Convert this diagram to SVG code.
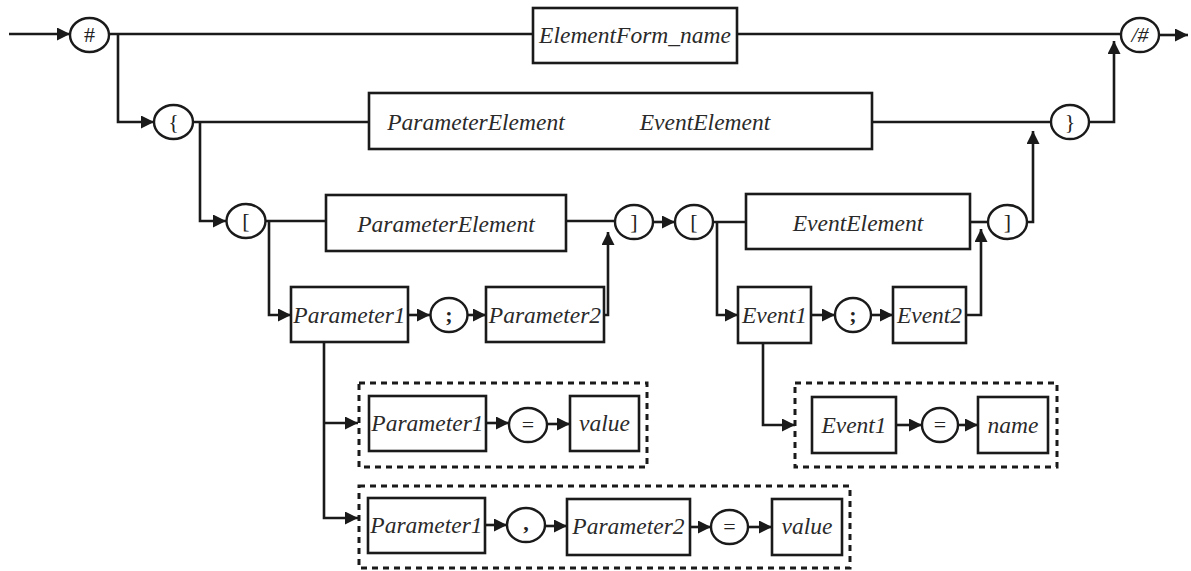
<svg xmlns="http://www.w3.org/2000/svg" width="1191" height="571" viewBox="0 0 1191 571">
<style>
.box{fill:#fff;stroke:#1a1a1a;stroke-width:2.6}
.dash{fill:none;stroke:#1a1a1a;stroke-width:3;stroke-dasharray:6 5}
.cir{fill:#fff;stroke:#1a1a1a;stroke-width:2.4}
.t{font-family:"Liberation Serif","Times New Roman",serif;font-style:italic;font-size:23.5px;fill:#2a2a2a;text-anchor:middle}
.s{font-family:"Liberation Serif","Times New Roman",serif;font-size:22px;fill:#222;text-anchor:middle}
.c{fill:none;stroke:#1a1a1a;stroke-width:2.6}
.a{marker-end:url(#ah)}
</style>
<defs>
<marker id="ah" viewBox="0 0 10 10" refX="10" refY="5" markerWidth="17" markerHeight="13" markerUnits="userSpaceOnUse" orient="auto"><path d="M0,0 L10,5 L0,10 z" fill="#1a1a1a"/></marker>
</defs>
<rect width="1191" height="571" fill="#fff"/>
<g id="connectors">
<path class="c a" d="M9,34 H70"/>
<path class="c" d="M109,34 H533"/>
<path class="c" d="M737,34 H1121"/>
<path class="c a" d="M1159,35 H1188"/>
<path class="c a" d="M118,34 V122 H154"/>
<path class="c" d="M193,122 H369"/>
<path class="c" d="M872,122 H1051"/>
<path class="c a" d="M1089,122 H1114 V41"/>
<path class="c a" d="M200,122 V221 H226"/>
<path class="c" d="M265,221 H326"/>
<path class="c" d="M566,221 H615"/>
<path class="c a" d="M269,221 V315 H291"/>
<path class="c a" d="M408,315 H430"/>
<path class="c a" d="M468,315 H486"/>
<path class="c a" d="M604,315 H608 V232"/>
<path class="c a" d="M653,222 H675"/>
<path class="c" d="M713,222 H746"/>
<path class="c" d="M970,222 H988"/>
<path class="c a" d="M717,222 V315 H738"/>
<path class="c a" d="M811,315 H835"/>
<path class="c a" d="M871,315 H893"/>
<path class="c a" d="M966,315 H981 V229"/>
<path class="c a" d="M1027,222 H1033 V131"/>
<path class="c a" d="M324,342 V518 H358"/>
<path class="c a" d="M324,423 H358"/>
<path class="c a" d="M486,423 H509"/>
<path class="c a" d="M547,424 H570"/>
<path class="c a" d="M485,525 H507"/>
<path class="c a" d="M545,526 H567"/>
<path class="c a" d="M690,527 H711"/>
<path class="c a" d="M748,527 H772"/>
<path class="c a" d="M763,343 V425 H795"/>
<path class="c a" d="M896,425 H922"/>
<path class="c a" d="M958,425 H978"/>
</g>
<g id="n-hash"><ellipse class="cir" cx="89.5" cy="35" rx="19.5" ry="17"/><text class="s" x="89.5" y="42">#</text></g>
<g id="n-elementform"><rect class="box" x="533" y="8" width="204" height="55"/><text class="t" x="635" y="43">ElementForm_name</text></g>
<g id="n-endhash"><ellipse class="cir" cx="1140" cy="35" rx="19" ry="17"/><text class="s" x="1140" y="42" font-style="italic">/#</text></g>
<g id="n-lbrace"><ellipse class="cir" cx="173.5" cy="122" rx="19.5" ry="17"/><text class="s" x="173.5" y="129">{</text></g>
<g id="n-bigbox"><rect class="box" x="369" y="93" width="503" height="56"/><text class="t" x="476" y="130">ParameterElement</text><text class="t" x="705" y="130">EventElement</text></g>
<g id="n-rbrace"><ellipse class="cir" cx="1070" cy="122" rx="19" ry="17"/><text class="s" x="1070" y="129">}</text></g>
<g id="n-lbr1"><ellipse class="cir" cx="246" cy="221" rx="19.5" ry="17"/><text class="s" x="246" y="228">[</text></g>
<g id="n-paramelem"><rect class="box" x="326" y="195" width="240" height="56"/><text class="t" x="446" y="232">ParameterElement</text></g>
<g id="n-rbr1"><ellipse class="cir" cx="634" cy="222" rx="19" ry="17"/><text class="s" x="634" y="229">]</text></g>
<g id="n-lbr2"><ellipse class="cir" cx="694" cy="222" rx="19" ry="17"/><text class="s" x="694" y="229">[</text></g>
<g id="n-eventelem"><rect class="box" x="746" y="194" width="224" height="55"/><text class="t" x="858" y="231">EventElement</text></g>
<g id="n-rbr2"><ellipse class="cir" cx="1007.5" cy="222" rx="19.5" ry="17"/><text class="s" x="1007.5" y="229">]</text></g>
<g id="n-param1"><rect class="box" x="291" y="287" width="117" height="55"/><text class="t" x="349.5" y="323">Parameter1</text></g>
<g id="n-semi1"><ellipse class="cir" cx="449" cy="315" rx="18.5" ry="17"/><text class="s" x="449" y="322" font-weight="bold">;</text></g>
<g id="n-param2"><rect class="box" x="486" y="287" width="118" height="55"/><text class="t" x="545" y="323">Parameter2</text></g>
<g id="n-event1"><rect class="box" x="738" y="287" width="73" height="56"/><text class="t" x="774.5" y="323">Event1</text></g>
<g id="n-semi2"><ellipse class="cir" cx="853" cy="315" rx="18" ry="17"/><text class="s" x="853" y="322" font-weight="bold">;</text></g>
<g id="n-event2"><rect class="box" x="893" y="287" width="73" height="56"/><text class="t" x="929.5" y="323">Event2</text></g>
<g id="n-group1">
<rect class="dash" x="359" y="383" width="288" height="84"/>
<rect class="box" x="369" y="396" width="117" height="55"/><text class="t" x="427.5" y="431">Parameter1</text>
<ellipse class="cir" cx="528" cy="425" rx="19" ry="17"/><text class="s" x="528" y="432">=</text>
<rect class="box" x="570" y="396" width="69" height="55"/><text class="t" x="604.5" y="431">value</text>
</g>
<g id="n-group2">
<rect class="dash" x="359" y="486" width="491" height="82"/>
<rect class="box" x="368" y="498" width="117" height="55"/><text class="t" x="426.5" y="533">Parameter1</text>
<ellipse class="cir" cx="526" cy="525" rx="19" ry="17"/><text class="s" x="526" y="530" font-weight="bold">,</text>
<rect class="box" x="567" y="499" width="123" height="56"/><text class="t" x="628.5" y="534">Parameter2</text>
<ellipse class="cir" cx="729.5" cy="527" rx="18.5" ry="17"/><text class="s" x="729.5" y="534">=</text>
<rect class="box" x="772" y="499" width="70" height="56"/><text class="t" x="807" y="534">value</text>
</g>
<g id="n-group3">
<rect class="dash" x="795" y="383" width="262" height="84"/>
<rect class="box" x="812" y="397" width="84" height="56"/><text class="t" x="854" y="433">Event1</text>
<ellipse class="cir" cx="940" cy="425" rx="18" ry="17"/><text class="s" x="940" y="432">=</text>
<rect class="box" x="978" y="397" width="70" height="56"/><text class="t" x="1013" y="433">name</text>
</g>
</svg>
